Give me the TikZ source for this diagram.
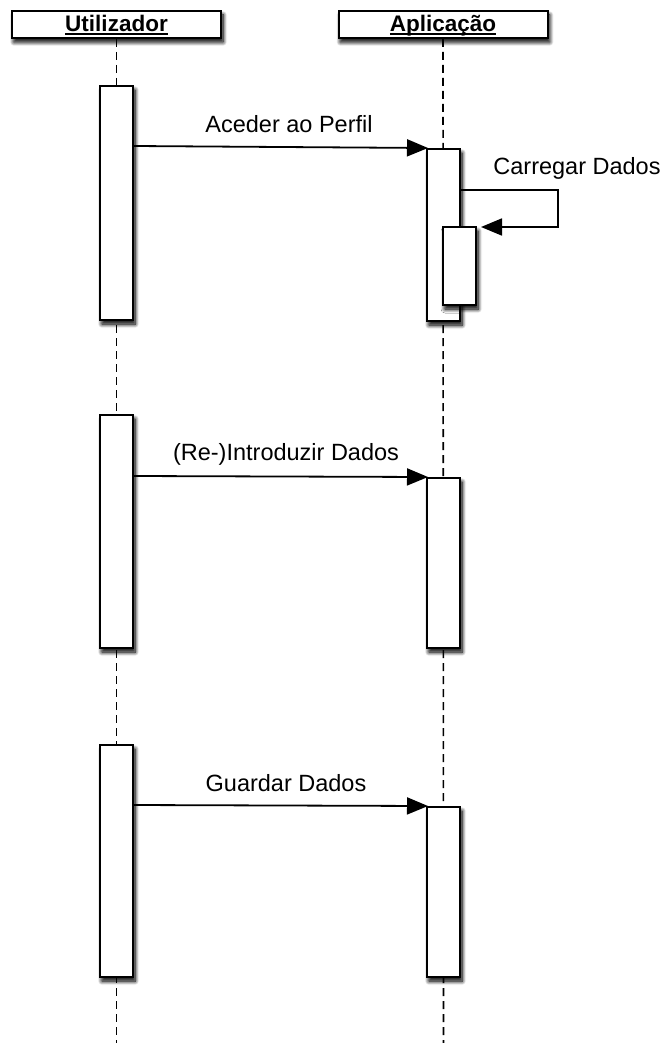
\documentclass[tikz,border=0pt]{standalone}
\usepackage{fontspec}
\setmainfont{Liberation Sans}
\usetikzlibrary{arrows.meta,shadows.blur}

% underline at a fixed depth, whatever the descenders
\newcommand{\hdrline}[1]{\setbox0\hbox{#1}\rlap{\rule[-3.4pt]{\wd0}{1.6pt}}\box0}

\tikzset{
  softshadow/.style={
      blur shadow={shadow xshift=3pt, shadow yshift=-6pt,
        shadow blur radius=8pt, shadow blur steps=12, shadow opacity=100},
      blur shadow={shadow xshift=2pt, shadow yshift=-4pt,
        shadow blur radius=4pt, shadow blur steps=8, shadow opacity=70}},
  header/.style={draw, line width=2pt, fill=white, softshadow,
      minimum width=209pt, minimum height=27pt, inner sep=0pt,
      text height=14pt, text depth=0pt,
      font=\fontsize{22.5}{24}\selectfont\bfseries},
  act/.style={draw, line width=2pt, fill=white, softshadow,
      minimum width=33pt, inner sep=0pt},
  lifeline/.style={line width=1.6pt, dash pattern=on 8pt off 5pt},
  msg/.style={line width=1.8pt, -{Triangle[length=21pt,width=17pt]}},
  msglabel/.style={anchor=base, inner sep=0pt,
      font=\fontsize{23.5}{25}\selectfont}
}

\begin{document}
\begin{tikzpicture}[x=1pt,y=-1pt]
  \useasboundingbox (0,0) rectangle (664,1043);

  % participants
  \node[header] (user) at (116.5,24.5) {\hdrline{Utilizador}};
  \node[header] (app)  at (443,24.5)   {\hdrline{Aplicação}};

  % lifelines
  \coordinate (userend) at (116.5,1043);
  \coordinate (append)  at (443.5,1043);
  \draw[lifeline] (user.south) -- (userend);
  \draw[lifeline] (app.south) -- (append);

  % activations of the user
  \node[act, minimum height=234pt] (u1) at (116.5,203)   {};
  \node[act, minimum height=233pt] (u2) at (116.5,531.5) {};
  \node[act, minimum height=232pt] (u3) at (116.5,861)   {};

  % activations of the application
  \node[act, minimum height=172pt] (a1)  at (443.5,235) {};
  \node[act, minimum height=78pt]  (a1n) at (459.5,266) {};
  \node[act, minimum height=170pt] (a2)  at (443.5,563) {};
  \node[act, minimum height=170pt] (a3)  at (443.5,892) {};

  % messages
  \draw[msg] ([yshift=-61pt]u1.north east) -- ([xshift=2pt]a1.north west);
  \node[msglabel] (l1) at (289,133) {Aceder ao Perfil};

  \draw[msg] ([xshift=0pt,yshift=-42pt]a1.north east) -- ++(97,0)
             |- ([xshift=4pt,yshift=-1pt]a1n.north east);
  \node[msglabel] (l2) at (577,175) {Carregar Dados};

  \draw[msg] ([yshift=-62pt]u2.north east) -- ([xshift=2pt]a2.north west);
  \node[msglabel] (l3) at (286,460) {(Re-)Introduzir Dados};

  \draw[msg] ([yshift=-61pt]u3.north east) -- ([xshift=2pt]a3.north west);
  \node[msglabel] (l4) at (286,791) {Guardar Dados};
\end{tikzpicture}
\end{document}
